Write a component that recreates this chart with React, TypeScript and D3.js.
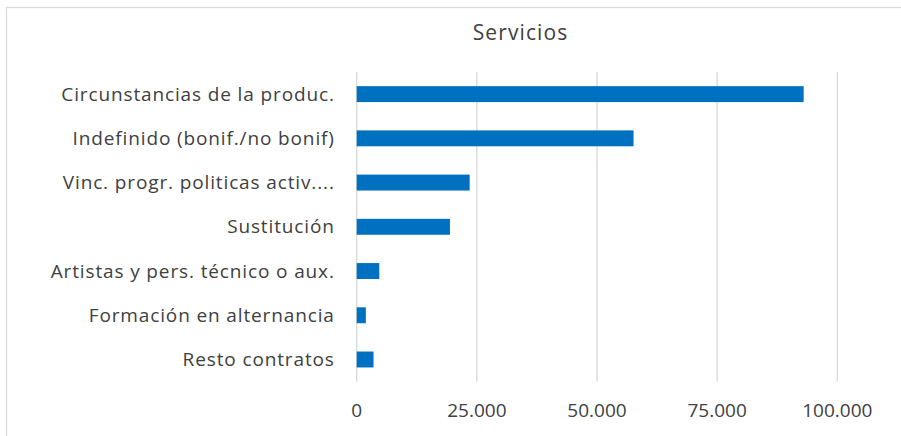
import React from "react";
import * as d3 from "d3";

const categories = [
  "Circunstancias de la produc.",
  "Indefinido (bonif./no bonif)",
  "Vinc. progr. politicas activ....",
  "Sustitución",
  "Artistas y pers. técnico o aux.",
  "Formación en alternancia",
  "Resto contratos",
];
const values = [93000, 57600, 23500, 19400, 4700, 1900, 3500];
const ticks = [0, 25000, 50000, 75000, 100000];
const title = "Servicios";

const W = 901;
const H = 436;
const FONT = "'Open Sans', 'DejaVu Sans', sans-serif";

export default function App() {
  const x = d3.scaleLinear().domain([0, 100000]).range([356.7, 837.3]);
  const y = d3
    .scaleBand<string>()
    .domain(categories)
    .range([72, 381.6])
    .paddingInner(0.64)
    .paddingOuter(0.32);
  const fmt = (v: number) => d3.format(",")(v).replace(/,/g, ".");
  return (
    <svg
      width={W}
      height={H}
      style={{ position: "absolute", left: 0, top: 0, background: "#fff" }}
    >
      <rect x={6.5} y={7.5} width={W + 10} height={H + 10} fill="#fff" stroke="#d9d9d9" strokeWidth={1.3} />
      <text x={520.5} y={40} textAnchor="middle" fontFamily={FONT} fontSize={21} letterSpacing={1.1} fill="#404040">
        {title}
      </text>
      {ticks.map((t) => (
        <line key={"g" + t} x1={x(t)} x2={x(t)} y1={72} y2={381.6} stroke="#d9d9d9" strokeWidth={1.3} />
      ))}
      {categories.map((c, i) => (
        <rect
          key={c}
          x={x(0)}
          y={y(c)!}
          width={x(values[i]) - x(0)}
          height={y.bandwidth()}
          fill="#0070C0"
        />
      ))}
      {categories.map((c) => (
        <text
          key={"l" + c}
          x={334.8}
          y={y(c)! + y.bandwidth() / 2}
          dy="0.35em"
          textAnchor="end"
          fontFamily={FONT}
          fontSize={19}
          letterSpacing={0.87}
          fill="#404040"
        >
          {c}
        </text>
      ))}
      {ticks.map((t) => (
        <text
          key={"t" + t}
          x={x(t)}
          y={410}
          dy="0.35em"
          textAnchor="middle"
          fontFamily={FONT}
          fontSize={19}
          fill="#404040"
        >
          {fmt(t)}
        </text>
      ))}
    </svg>
  );
}
